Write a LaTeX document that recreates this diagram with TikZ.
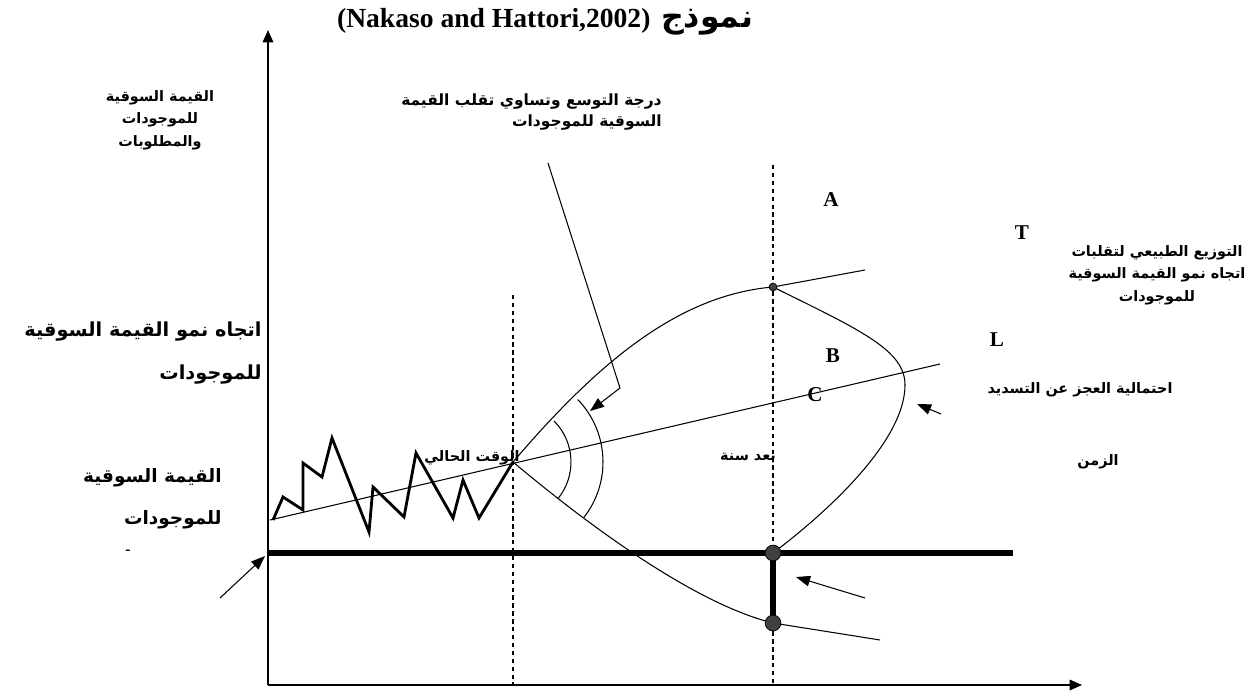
\documentclass[tikz,border=0pt]{standalone}
\usepackage{fontspec}
\setmainfont{Liberation Serif}
\newfontfamily\arabicfont[Script=Arabic]{DejaVu Sans}
\TeXXeTstate=1
\usetikzlibrary{arrows.meta}
\begin{document}
\begin{tikzpicture}[x=0.02cm, y=-0.02cm,
  ar/.style={font=\arabicfont\bfseries\fontsize{8.2}{12.8}\selectfont, align=center, inner sep=0pt},
  arbig/.style={font=\arabicfont\bfseries\fontsize{11}{24}\selectfont, align=right, inner sep=0pt},
  lett/.style={font=\bfseries\fontsize{12}{14}\selectfont, inner sep=0pt},
  thin/.style={black, line width=0.6pt},
  dot/.style={circle, fill=black!75, draw=black, line width=0.4pt, inner sep=0pt, minimum size=#1}]
  \useasboundingbox (0,0) rectangle (1256,695);

  %–– Punti ––
  \coordinate (orig) at (268,685);
  \coordinate (now) at (513,462);
  \coordinate (up) at (773,287);
  \coordinate (bar) at (773,553);
  \coordinate (low) at (773,623);

  %–– Assi ––
  \draw[line width=0.9pt, -{Triangle[length=7pt,width=6pt]}] (orig) -- (268,30);
  \draw[line width=0.9pt, -{Triangle[length=7pt,width=6pt]}] (orig) -- (1082,685);

  %–– Tratteggiate ––
  \draw[line width=0.8pt, dash pattern=on 2.5pt off 2pt] (513,295) -- (513,685);
  \draw[line width=0.8pt, dash pattern=on 2.5pt off 2pt] (773,165) -- (773,685);

  %–– Linea spessa ––
  \draw[line width=3.4pt] (268,553) -- (1013,553);
  \draw[line width=3.4pt] (bar) -- (low);

  %–– Trend ––
  \draw[thin] (270,520) -- (940,364);

  %–– Zigzag ––
  \draw[line width=1.6pt, line join=miter]
    (273,520) -- (283,497) -- (303,510) -- (303,463) -- (322,477) -- (332,438)
    -- (369,532) -- (373,487) -- (404,517) -- (416,453) -- (453,518)
    -- (463,480) -- (479,518) -- (now);

  %–– Ventaglio ––
  \draw[thin] (now) .. controls (600,360) and (680,295) .. (up) -- (865,270);
  \draw[thin] (now) .. controls (600,535) and (700,605) .. (low) -- (880,640);
  \draw[thin] (now) ++(-39:1.16cm) arc[start angle=-39, end angle=45, radius=1.16cm];
  \draw[thin] (now) ++(-38:1.8cm) arc[start angle=-38, end angle=44, radius=1.8cm];

  %–– Distribuzione ––
  \draw[thin] (up) .. controls (860,330) and (905,350) .. (905,385)
    .. controls (905,440) and (830,510) .. (bar);

  %–– Frecce ––
  \draw[thin, -{Triangle[length=8pt,width=6pt]}] (548,163) -- (620,388) -- (590,411);
  \draw[thin, -{Triangle[length=8pt,width=6pt]}] (941,414) -- (917,404);
  \draw[thin, -{Triangle[length=8pt,width=6pt]}] (220,598) -- (265,556);
  \draw[thin, -{Triangle[length=8pt,width=6pt]}] (865,598) -- (796,577);

  %–– Pallini ––
  \node[dot=4.5pt] (pup) at (up) {};
  \node[dot=9pt] (pbar) at (bar) {};
  \node[dot=9pt] (plow) at (low) {};

  %–– Etichette ––
  \node[font=\bfseries\fontsize{15.7}{18}\selectfont, inner sep=0pt] (title) at (545,22)
    {(Nakaso and Hattori,2002)\hspace{6pt}{\arabicfont\fontsize{18}{18}\selectfont\beginR نموذج\endR}};
  \node[ar] (yl) at (160,120) {\beginR القيمة السوقية\endR\\ \beginR للموجودات\endR\\ \beginR والمطلوبات\endR};
  \node[ar, font=\arabicfont\bfseries\fontsize{8.8}{12}\selectfont, align=right, anchor=east] (deg) at (662,112)
    {\beginR درجة التوسع وتساوي تقلب القيمة\endR\\ \beginR السوقية للموجودات\endR};
  \node[ar] (norm) at (1157,275) {\beginR التوزيع الطبيعي لتقلبات\endR\\ \beginR اتجاه نمو القيمة السوقية\endR\\ \beginR للموجودات\endR};
  \node[arbig, anchor=east] (trend) at (262,353) {\beginR اتجاه نمو القيمة السوقية\endR\\ \beginR للموجودات\endR};
  \node[arbig, font=\arabicfont\bfseries\fontsize{10.5}{24}\selectfont, anchor=east] (mv) at (222,499)
    {\beginR القيمة السوقية\endR\\ \beginR للموجودات\endR};
  \node[font=\bfseries\small, inner sep=0pt] (dash) at (128,552) {-};
  \node[ar] (tnow) at (472,458) {\beginR الوقت الحالي\endR};
  \node[ar] (tyear) at (748,458) {\beginR بعد سنة\endR};
  \node[ar] (ttime) at (1098,462) {\beginR الزمن\endR};
  \node[ar] (pd) at (1080,390) {\beginR احتمالية العجز عن التسديد\endR};
  \node[lett] (A) at (831,200) {A};
  \node[lett] (T) at (1022,233) {T};
  \node[lett] (L) at (997,340) {L};
  \node[lett] (B) at (833,356) {B};
  \node[lett] (C) at (815,395) {C};
\end{tikzpicture}
\end{document}
